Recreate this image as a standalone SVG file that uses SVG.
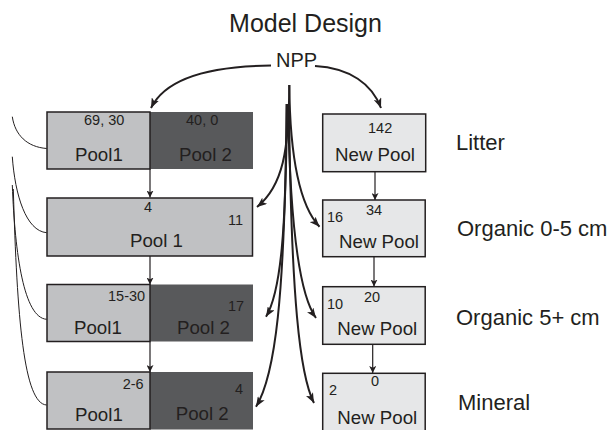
<svg xmlns="http://www.w3.org/2000/svg" width="613" height="430" viewBox="0 0 613 430">
<defs>
<marker id="big" viewBox="0 0 10 8" refX="10" refY="4" markerWidth="10" markerHeight="8" markerUnits="userSpaceOnUse" orient="auto"><path d="M0,0 L10,4 L0,8 L2.5,4 Z" fill="#231f20"/></marker>
<marker id="small" viewBox="0 0 8 8" refX="8" refY="4" markerWidth="7" markerHeight="7" markerUnits="userSpaceOnUse" orient="auto"><path d="M0,0 L8,4 L0,8 L2,4 Z" fill="#231f20"/></marker>
<style>
text{font-family:"Liberation Sans",Arial,sans-serif;fill:#231f20}
.num{font-size:14.5px}
.lab{font-size:18.7px}
.side{font-size:22px}
.light{fill:#c0c1c3;stroke:#231f20;stroke-width:1.5}
.dark{fill:#58595b}
.new{fill:#e6e7e8;stroke:#231f20;stroke-width:1.5}
.thick{fill:none;stroke:#231f20;stroke-width:2;marker-end:url(#big)}
.thin{fill:none;stroke:#231f20;stroke-width:1.2;marker-end:url(#small)}
.feed{fill:none;stroke:#231f20;stroke-width:1}
</style>
</defs>
<rect width="613" height="430" fill="#ffffff"/>
<text x="305.5" y="31.5" font-size="25" text-anchor="middle">Model Design</text>
<g id="npp"><text x="276" y="66.5" font-size="20">NPP</text></g>

<g id="litter-old">
<rect class="dark" x="150" y="112" width="103" height="57"/>
<rect class="light" x="47" y="112" width="103" height="57"/>
<text class="num" x="84" y="125">69, 30</text>
<text class="num" x="186" y="125">40, 0</text>
<text class="lab" x="75" y="161">Pool1</text>
<text class="lab" x="179" y="161">Pool 2</text>
</g>
<g id="org05-old">
<rect class="light" x="47" y="198" width="205.5" height="58"/>
<text class="num" x="144" y="211.7">4</text>
<text class="num" x="228" y="225">11</text>
<text class="lab" x="130" y="246.7">Pool 1</text>
</g>
<g id="org5-old">
<rect class="dark" x="150" y="284.5" width="103" height="57"/>
<rect class="light" x="47" y="284.5" width="103" height="57"/>
<text class="num" x="108" y="301">15-30</text>
<text class="num" x="228" y="311">17</text>
<text class="lab" x="74" y="333.5">Pool1</text>
<text class="lab" x="177" y="334">Pool 2</text>
</g>
<g id="mineral-old">
<rect class="dark" x="150" y="372" width="103" height="57.5"/>
<rect class="light" x="47" y="372" width="103" height="57"/>
<text class="num" x="122.7" y="389">2-6</text>
<text class="num" x="235" y="394">4</text>
<text class="lab" x="75" y="420.7">Pool1</text>
<text class="lab" x="175.7" y="420">Pool 2</text>
</g>

<g id="litter-new">
<rect class="new" x="322.7" y="114" width="103" height="57.7"/>
<text class="num" x="368" y="132.7">142</text>
<text class="lab" x="335" y="160.7">New Pool</text>
</g>
<g id="org05-new">
<rect class="new" x="322.7" y="200" width="102.5" height="56.7"/>
<text class="num" x="327" y="221.7">16</text>
<text class="num" x="366" y="215">34</text>
<text class="lab" x="339" y="248">New Pool</text>
</g>
<g id="org5-new">
<rect class="new" x="322.7" y="286.7" width="102.5" height="57.6"/>
<text class="num" x="327" y="309">10</text>
<text class="num" x="364" y="302">20</text>
<text class="lab" x="337.3" y="335">New Pool</text>
</g>
<g id="mineral-new">
<rect class="new" x="322.7" y="373.3" width="102.5" height="60"/>
<text class="num" x="329" y="395">2</text>
<text class="num" x="371" y="386">0</text>
<text class="lab" x="337.3" y="424">New Pool</text>
</g>

<g id="labels">
<text class="side" x="456" y="150">Litter</text>
<text class="side" x="457" y="236">Organic 0-5 cm</text>
<text class="side" x="456" y="325">Organic 5+ cm</text>
<text class="side" x="458" y="409.5">Mineral</text>
</g>

<g id="connectors">
<path class="thick" d="M271,65.5 C212,66 166,77 151,108"/>
<path class="thick" d="M315,66 C350,68 372,84 381,108"/>
<path class="thick" d="M289.3,85 C289,150 283,186 257,207"/>
<path class="thick" d="M289.3,85 C290,160 300,206 319.5,226.7"/>
<path class="thick" d="M287,104 C286,230 281,292 266,316.7"/>
<path class="thick" d="M288,104 C290,230 300,296 316,318"/>
<path class="thick" d="M286.5,104 C285,300 275,376 256,406.7"/>
<path class="thick" d="M289,104 C291,300 300,376 314,403"/>
<path class="thin" d="M150,169 V197.5"/>
<path class="thin" d="M150,256 V284.5"/>
<path class="thin" d="M150,341.5 V372"/>
<path class="thin" d="M375,171.7 V200"/>
<path class="thin" d="M374,256.7 V286.5"/>
<path class="thin" d="M372.7,344.3 V373"/>
<path class="feed" d="M12.3,116.7 C15,135 27,147 46.7,148.5"/>
<path class="feed" d="M12.3,156.7 C15,195 26,231 46.7,232.7"/>
<path class="feed" d="M12.3,185 C15,255 24,318 46.7,319.3"/>
<path class="feed" d="M13.3,189 C17,320 24,404 46.7,405"/>
</g>
</svg>
